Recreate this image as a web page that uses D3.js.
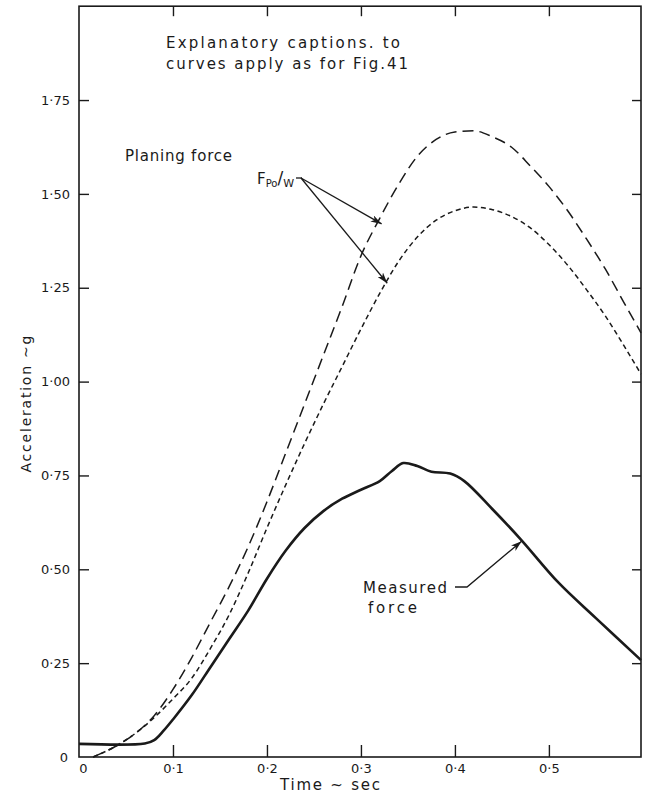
<!DOCTYPE html>
<html>
<head>
<meta charset="utf-8">
<script src="https://cdn.jsdelivr.net/npm/d3@7"></script>
<style>
  html, body { margin: 0; padding: 0; background: #fff; }
  svg { display: block; }
  text { font-family: "DejaVu Sans", "Liberation Sans", sans-serif; fill: #1a1a1a; }
</style>
</head>
<body>
<svg id="chart" width="645" height="794"></svg>
<script>
// Time (sec) and acceleration (g) for each curve
const measuredTime = [0, 0.07, 0.08, 0.09, 0.10, 0.12, 0.14, 0.16, 0.18, 0.20, 0.22, 0.24, 0.26, 0.28, 0.30, 0.32, 0.333, 0.345, 0.36, 0.375, 0.395, 0.41, 0.44, 0.47, 0.51, 0.55, 0.598];
const measuredAccel = [0.035, 0.036, 0.045, 0.07, 0.10, 0.165, 0.24, 0.315, 0.39, 0.475, 0.55, 0.61, 0.655, 0.688, 0.712, 0.735, 0.762, 0.783, 0.775, 0.76, 0.755, 0.735, 0.66, 0.58, 0.465, 0.37, 0.258];

const planingTime = [0.015, 0.04, 0.06, 0.08, 0.10, 0.12, 0.14, 0.16, 0.18, 0.20, 0.22, 0.24, 0.26, 0.28, 0.30, 0.32, 0.34, 0.36, 0.38, 0.40, 0.42, 0.44, 0.46, 0.48, 0.50, 0.52, 0.54, 0.56, 0.58, 0.598];
const planingUpper = [0, 0.03, 0.063, 0.11, 0.18, 0.265, 0.36, 0.455, 0.56, 0.68, 0.81, 0.94, 1.07, 1.2, 1.335, 1.435, 1.525, 1.60, 1.645, 1.665, 1.668, 1.652, 1.625, 1.575, 1.52, 1.455, 1.38, 1.30, 1.21, 1.13];
const planingLower = [0, 0.03, 0.063, 0.105, 0.155, 0.21, 0.29, 0.38, 0.49, 0.61, 0.725, 0.835, 0.94, 1.04, 1.14, 1.235, 1.32, 1.385, 1.43, 1.455, 1.465, 1.458, 1.44, 1.41, 1.365, 1.31, 1.245, 1.175, 1.095, 1.02];

const xTicks = [0, 0.1, 0.2, 0.3, 0.4, 0.5];
const xTickLabels = ["0", "0·1", "0·2", "0·3", "0·4", "0·5"];
const yTicks = [0, 0.25, 0.5, 0.75, 1.0, 1.25, 1.5, 1.75];
const yTickLabels = ["0", "0·25", "0·50", "0·75", "1·00", "1·25", "1·50", "1·75"];

const svg = d3.select("#chart");
const ink = "#1a1a1a";

const x = d3.scaleLinear().domain([0, 0.598]).range([79, 641]);
const y = d3.scaleLinear().domain([0, 2.0]).range([757, 6.2]);

// Frame
svg.append("rect")
  .attr("x", x(0)).attr("y", y(2.0))
  .attr("width", x(0.598) - x(0)).attr("height", y(0) - y(2.0))
  .attr("fill", "none").attr("stroke", ink).attr("stroke-width", 1.6);

function styleAxis(g) {
  g.select(".domain").remove();
  g.selectAll(".tick line").attr("stroke", ink).attr("stroke-width", 1.4);
  g.selectAll(".tick text").attr("fill", ink).style("font-size", "13px");
}

// Bottom axis with labels, ticks pointing inward
svg.append("g")
  .attr("transform", `translate(0,${y(0)})`)
  .call(d3.axisBottom(x).tickValues(xTicks).tickSize(-12).tickPadding(7)
    .tickFormat((d, i) => xTickLabels[i]))
  .call(styleAxis)
  .call(g => g.selectAll(".tick").filter(d => d === 0).select("line").remove())
  .call(g => g.selectAll(".tick").filter(d => d === 0).select("text").attr("dx", 4));

// Top axis, ticks only
svg.append("g")
  .attr("transform", `translate(0,${y(2.0)})`)
  .call(d3.axisTop(x).tickValues(xTicks.slice(1)).tickSize(-10).tickFormat(""))
  .call(styleAxis);

// Left axis with labels, ticks pointing inward
svg.append("g")
  .attr("transform", `translate(${x(0)},0)`)
  .call(d3.axisLeft(y).tickValues(yTicks).tickSize(-10).tickPadding(9)
    .tickFormat((d, i) => yTickLabels[i]))
  .call(styleAxis)
  .call(g => g.selectAll(".tick").filter(d => d === 0).select("line").remove())
  .call(g => g.selectAll(".tick").filter(d => d === 0).select("text").attr("dx", -2));

// Right axis, ticks only
svg.append("g")
  .attr("transform", `translate(${x(0.598)},0)`)
  .call(d3.axisRight(y).tickValues(yTicks.slice(1)).tickSize(-9).tickFormat(""))
  .call(styleAxis);

// Axis titles
svg.append("text")
  .attr("x", 330).attr("y", 790)
  .attr("text-anchor", "middle").style("font-size", "15px")
  .attr("textLength", 100).attr("lengthAdjust", "spacing")
  .text("Time ~ sec");

svg.append("text")
  .attr("transform", "translate(31,404) rotate(-90)")
  .attr("text-anchor", "middle").style("font-size", "14px")
  .attr("textLength", 137).attr("lengthAdjust", "spacing")
  .text("Acceleration ~g");

// Curves
const line = d3.line().curve(d3.curveMonotoneX);
const pts = (ts, vs) => ts.map((t, i) => [x(t), y(vs[i])]);

svg.append("path")
  .attr("d", line(pts(planingTime, planingUpper)))
  .attr("fill", "none").attr("stroke", ink).attr("stroke-width", 1.5)
  .attr("stroke-dasharray", "11 6");

svg.append("path")
  .attr("d", line(pts(planingTime, planingLower)))
  .attr("fill", "none").attr("stroke", ink).attr("stroke-width", 1.5)
  .attr("stroke-dasharray", "5 3.5");

svg.append("path")
  .attr("d", d3.line().curve(d3.curveCatmullRom.alpha(0.5))(pts(measuredTime, measuredAccel)))
  .attr("fill", "none").attr("stroke", ink).attr("stroke-width", 2.6)
  .attr("stroke-linejoin", "round");

// Arrowhead
svg.append("defs").append("marker")
  .attr("id", "arrow").attr("viewBox", "0 0 11 7")
  .attr("refX", 11).attr("refY", 3.5)
  .attr("markerWidth", 11).attr("markerHeight", 7)
  .attr("markerUnits", "userSpaceOnUse")
  .attr("orient", "auto")
  .append("path").attr("d", "M0,0 L11,3.5 L0,7 L3,3.5 Z").attr("fill", ink);

// Annotations
const caption = svg.append("g").style("font-size", "15px");
caption.append("text").attr("x", 166).attr("y", 48)
  .attr("textLength", 234).attr("lengthAdjust", "spacing")
  .text("Explanatory  captions. to");
caption.append("text").attr("x", 166).attr("y", 69)
  .attr("textLength", 242).attr("lengthAdjust", "spacing")
  .text("curves  apply as for Fig.41");

svg.append("text").attr("x", 125).attr("y", 161).style("font-size", "15px")
  .attr("textLength", 107).attr("lengthAdjust", "spacing")
  .text("Planing force");

const fpw = svg.append("text").attr("x", 257).attr("y", 184).style("font-size", "15px");
fpw.append("tspan").text("F");
fpw.append("tspan").attr("dy", 3).style("font-size", "10px").text("Po");
fpw.append("tspan").attr("dy", -3).style("font-size", "17px").text("/");
fpw.append("tspan").attr("dy", 3).style("font-size", "11px").text("W");

// Leaders from F/W label to both planing curves
const leaderStart = [301, 178];
[[0.322, 1.42], [0.328, 1.262]].forEach(([t, v]) => {
  svg.append("path")
    .attr("d", `M${leaderStart[0]},${leaderStart[1]} L${x(t)},${y(v)}`)
    .attr("stroke", ink).attr("stroke-width", 1.3).attr("fill", "none")
    .attr("marker-end", "url(#arrow)");
});
svg.append("line").attr("x1", 296).attr("y1", 178).attr("x2", 302).attr("y2", 178)
  .attr("stroke", ink).attr("stroke-width", 1.3);

const measuredLabel = svg.append("g").style("font-size", "15px");
measuredLabel.append("text").attr("x", 363).attr("y", 593)
  .attr("textLength", 84).attr("lengthAdjust", "spacing").text("Measured");
measuredLabel.append("text").attr("x", 368).attr("y", 613)
  .attr("textLength", 49).attr("lengthAdjust", "spacing").text("force");

svg.append("path")
  .attr("d", `M455,587 L467,587 L${x(0.471)},${y(0.575)}`)
  .attr("stroke", ink).attr("stroke-width", 1.3).attr("fill", "none")
  .attr("marker-end", "url(#arrow)");
</script>
</body>
</html>
